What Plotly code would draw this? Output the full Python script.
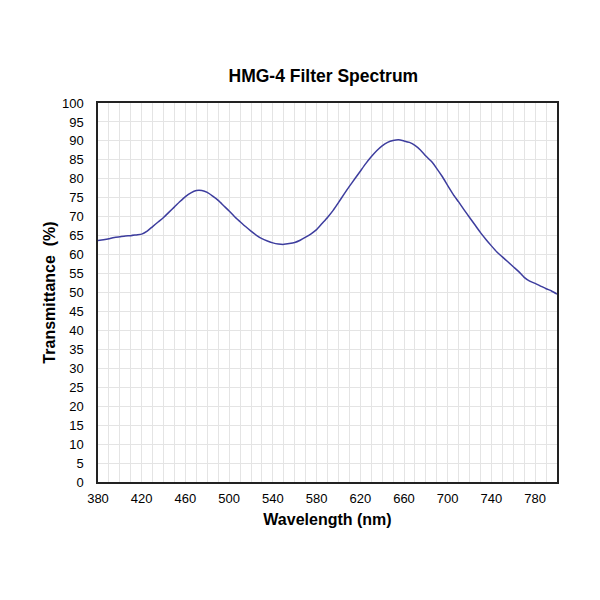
import plotly.graph_objects as go

wavelength = list(range(380, 801, 5))
transmittance = [
    63.7, 63.9, 64.2, 64.5, 64.7, 64.9, 65.0, 65.2, 65.4, 66.2,
    67.4, 68.6, 69.8, 71.2, 72.6, 74.0, 75.3, 76.3, 76.9, 76.9,
    76.4, 75.4, 74.3, 72.9, 71.5, 70.0, 68.7, 67.4, 66.2, 65.1,
    64.2, 63.6, 63.1, 62.8, 62.7, 62.9, 63.2, 63.8, 64.6, 65.5,
    66.6, 68.2, 69.8, 71.6, 73.7, 75.9, 78.0, 80.0, 82.0, 84.0,
    85.8, 87.4, 88.7, 89.6, 90.1, 90.3, 90.0, 89.6, 88.8, 87.6,
    86.0, 84.6, 82.7, 80.6, 78.2, 75.9, 73.9, 71.8, 69.8, 67.8,
    65.8, 64.0, 62.3, 60.7, 59.4, 58.1, 56.8, 55.5, 54.0, 53.0,
    52.4, 51.7, 51.0, 50.4, 49.6,
]

title_text = "HMG-4 Filter Spectrum"
x_title = "Wavelength (nm)"
y_title = "Transmittance  (%)"

fig = go.Figure()
fig.add_trace(go.Scatter(
    x=wavelength, y=transmittance, mode="lines",
    line=dict(color="#3d3d9e", width=1.5, shape="spline", smoothing=0.6),
    hoverinfo="x+y", showlegend=False,
))

font_family = "Liberation Sans, Arial, sans-serif"
fig.update_layout(
    width=600, height=600,
    paper_bgcolor="white", plot_bgcolor="white",
    margin=dict(l=90, r=51, t=95, b=126),
    title=dict(text="<b>" + title_text + "</b>", x=0.491, xanchor="center",
               xref="paper",
               y=1 - 68 / 600, yanchor="middle",
               font=dict(family=font_family, size=17.5, color="black")),
    font=dict(family=font_family, size=13, color="black"),
)
fig.update_xaxes(
    range=[380, 800], tick0=380, dtick=40,
    showline=True, linecolor="#222", linewidth=1.5, mirror=True,
    showgrid=True, gridcolor="#e4e4e4", gridwidth=1,
    minor=dict(dtick=10, showgrid=True, gridcolor="#e4e4e4", gridwidth=1),
    ticks="", zeroline=False, ticklabelstandoff=4,
    tickfont=dict(size=13),
    title=dict(text="<b>" + x_title + "</b>", font=dict(size=16), standoff=8),
)
fig.update_yaxes(
    range=[0, 100], tick0=0, dtick=5,
    showline=True, linecolor="#222", linewidth=1.5, mirror=True,
    showgrid=True, gridcolor="#e4e4e4", gridwidth=1,
    ticks="", zeroline=False, ticklabelstandoff=10,
    tickfont=dict(size=13),
    title=dict(text="<b>" + y_title + "</b>", font=dict(size=16), standoff=2),
)

fig.write_html("out.html")
